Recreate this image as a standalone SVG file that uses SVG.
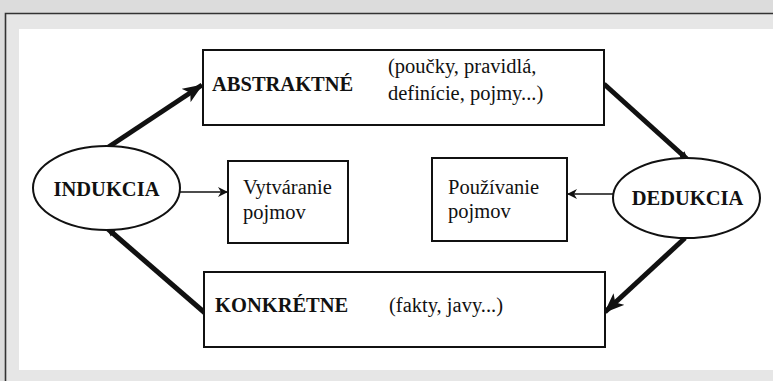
<svg xmlns="http://www.w3.org/2000/svg" width="773" height="381" viewBox="0 0 773 381">
<defs>
<style>
.box{fill:#fff;stroke:#111;stroke-width:2}
.ell{fill:#fff;stroke:#111;stroke-width:2}
.bold{font-family:"Liberation Serif","Times New Roman",serif;font-weight:bold;font-size:20.5px;fill:#111}
.reg{font-family:"Liberation Serif","Times New Roman",serif;font-size:20.5px;fill:#111}
.thick{stroke:#111;stroke-width:5;fill:none}
.thin{stroke:#111;stroke-width:1.6;fill:none}
</style>
<marker id="big" markerUnits="userSpaceOnUse" markerWidth="20" markerHeight="16" refX="19" refY="8" orient="auto">
<path d="M0,0 L20,8 L0,16 L5,8 Z" fill="#111"/>
</marker>
<marker id="nub" markerUnits="userSpaceOnUse" markerWidth="8" markerHeight="10" refX="7" refY="5" orient="auto">
<path d="M0,1 L8,5 L0,9 Z" fill="#111"/>
</marker>
<marker id="small" markerUnits="userSpaceOnUse" markerWidth="10" markerHeight="10" refX="9" refY="5" orient="auto">
<path d="M0,0 L10,5 L0,10 L3,5 Z" fill="#111"/>
</marker>
</defs>
<rect x="0" y="0" width="773" height="381" fill="#dcdcdc"/>
<rect x="5" y="13" width="768" height="368" fill="#e6e6e6"/>
<path d="M5.5,381 V13.5 H773" fill="none" stroke="#333" stroke-width="1.6"/>
<rect x="19" y="29" width="754" height="341" fill="#fff"/>

<g id="connectors">
<line class="thick" x1="107" y1="148" x2="202" y2="85" marker-end="url(#big)"/>
<line class="thick" x1="205" y1="313" x2="108" y2="229" marker-end="url(#nub)"/>
<line class="thick" x1="604" y1="84" x2="687" y2="159" marker-end="url(#nub)"/>
<line class="thick" x1="685" y1="238" x2="605" y2="312" marker-end="url(#big)"/>
<line class="thin" x1="180" y1="192" x2="227" y2="192" marker-end="url(#small)"/>
<line class="thin" x1="613" y1="194" x2="568" y2="194" marker-end="url(#small)"/>
</g>

<g id="abstraktne">
<rect class="box" x="203" y="50" width="401" height="75"/>
<text class="bold" x="212" y="91">ABSTRAKTNÉ</text>
<text class="reg" x="388" y="73">(poučky, pravidlá,</text>
<text class="reg" x="388" y="100">definície, pojmy...)</text>
</g>

<g id="konkretne">
<rect class="box" x="204" y="272" width="401" height="75"/>
<text class="bold" x="215" y="312">KONKRÉTNE</text>
<text class="reg" x="389" y="312">(fakty, javy...)</text>
</g>

<g id="indukcia">
<ellipse class="ell" cx="106.5" cy="188" rx="73.5" ry="42"/>
<text class="bold" x="106.5" y="196" text-anchor="middle">INDUKCIA</text>
</g>

<g id="dedukcia">
<ellipse class="ell" cx="686.5" cy="198" rx="73.5" ry="40"/>
<text class="bold" x="687.5" y="205" text-anchor="middle">DEDUKCIA</text>
</g>

<g id="vytvaranie">
<rect class="box" x="228" y="161" width="120" height="82"/>
<text class="reg" x="243" y="194">Vytváranie</text>
<text class="reg" x="243" y="219">pojmov</text>
</g>

<g id="pouzivanie">
<rect class="box" x="432" y="158" width="135" height="83"/>
<text class="reg" x="448" y="194">Používanie</text>
<text class="reg" x="448" y="218">pojmov</text>
</g>
</svg>
